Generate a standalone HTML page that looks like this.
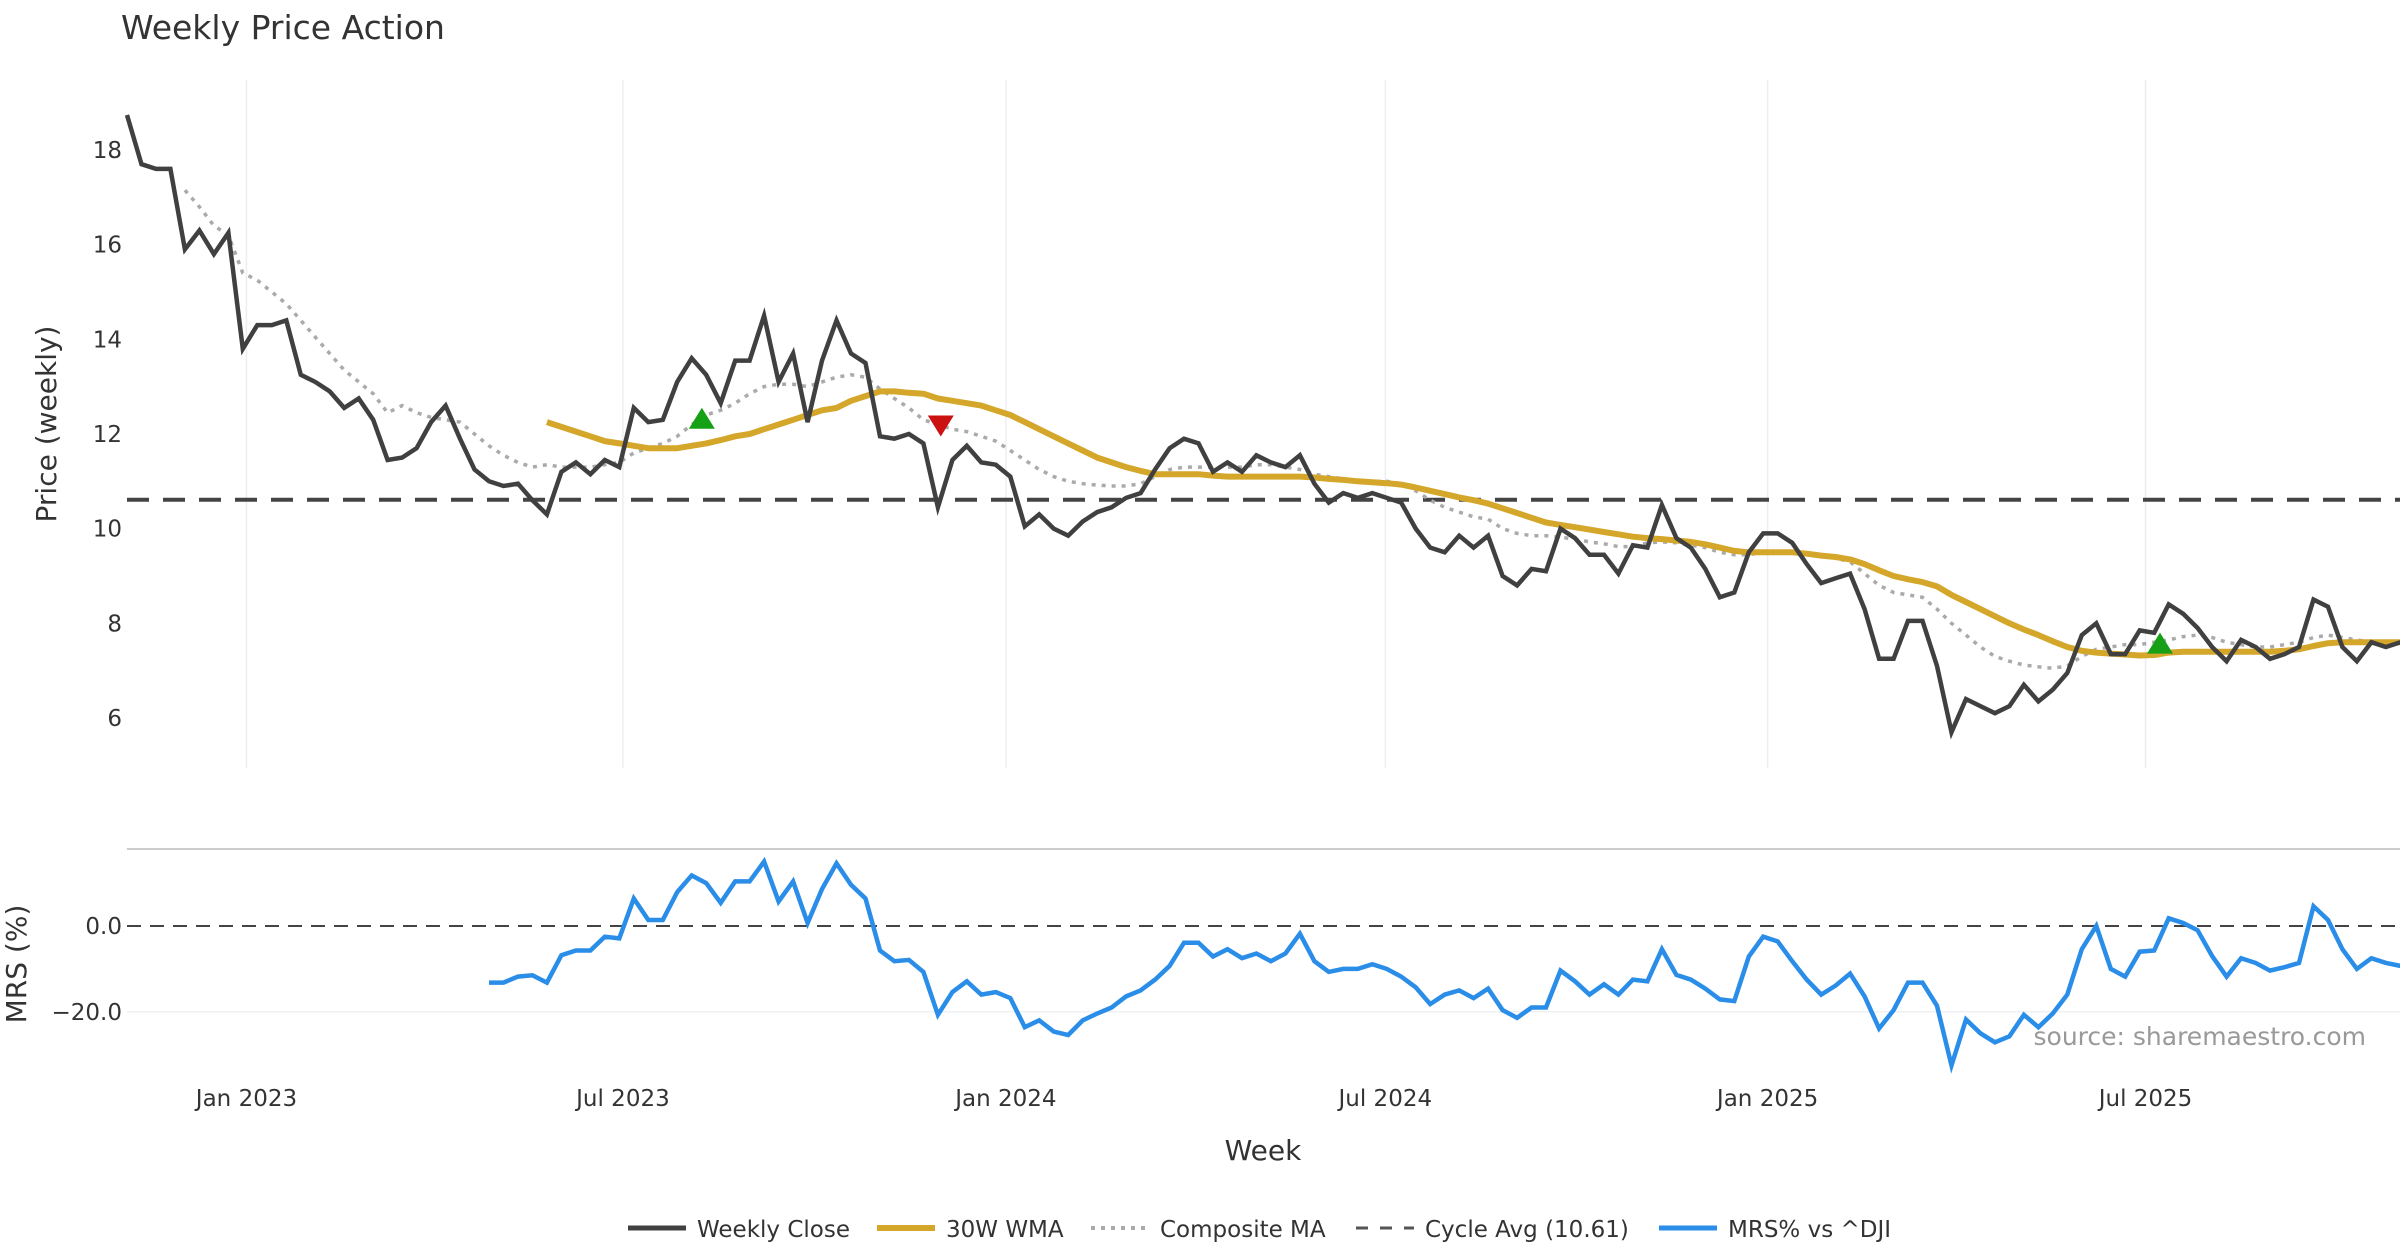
<!DOCTYPE html>
<html><head><meta charset="utf-8">
<style>
html,body{margin:0;padding:0;background:#fff;}
svg{display:block;font-family:"DejaVu Sans","Liberation Sans",sans-serif;}
</style></head>
<body>
<svg id="chart" width="2400" height="1260" viewBox="0 0 2400 1260">
<text x="121" y="39" font-size="33" fill="#333">Weekly Price Action</text>
<g id="grid"></g>
<g id="series"></g>
<g id="axes"></g>
<text x="2366" y="1045" font-size="25" fill="#999" text-anchor="end">source: sharemaestro.com</text>
<text x="1263" y="1160" font-size="28" fill="#333" text-anchor="middle">Week</text>
<text transform="translate(56,424) rotate(-90)" font-size="28" fill="#333" text-anchor="middle">Price (weekly)</text>
<text transform="translate(26,964) rotate(-90)" font-size="28" fill="#333" text-anchor="middle">MRS (%)</text>
<g id="legend"></g>
</svg>
<script>
const closeVals=[18.74,17.7,17.6,17.6,15.9,16.3,15.8,16.25,13.8,14.3,14.3,14.4,13.25,13.1,12.9,12.55,12.75,12.3,11.45,11.5,11.7,12.25,12.6,11.9,11.25,11.0,10.9,10.95,10.6,10.3,11.2,11.4,11.15,11.45,11.3,12.55,12.25,12.3,13.1,13.6,13.25,12.65,13.55,13.55,14.5,13.1,13.7,12.25,13.55,14.4,13.7,13.5,11.95,11.9,12.0,11.8,10.45,11.45,11.75,11.4,11.35,11.1,10.05,10.3,10.0,9.85,10.15,10.35,10.45,10.65,10.75,11.25,11.7,11.9,11.8,11.2,11.4,11.2,11.55,11.4,11.3,11.55,10.95,10.55,10.75,10.65,10.75,10.65,10.55,10.0,9.6,9.5,9.85,9.6,9.85,9.0,8.8,9.15,9.1,10.0,9.8,9.45,9.45,9.05,9.65,9.6,10.5,9.8,9.6,9.15,8.55,8.65,9.5,9.9,9.9,9.7,9.25,8.85,8.95,9.05,8.3,7.25,7.25,8.05,8.05,7.1,5.7,6.4,6.25,6.1,6.25,6.7,6.35,6.6,6.95,7.75,8.0,7.35,7.35,7.85,7.8,8.4,8.2,7.9,7.5,7.2,7.65,7.5,7.25,7.35,7.5,8.5,8.35,7.5,7.2,7.6,7.5,7.6];
const wmaStart=29;
const wmaVals=[12.25,12.15,12.05,11.95,11.85,11.8,11.75,11.7,11.7,11.7,11.75,11.8,11.87,11.95,12.0,12.1,12.2,12.3,12.4,12.5,12.55,12.7,12.8,12.9,12.9,12.87,12.85,12.75,12.7,12.65,12.6,12.5,12.4,12.25,12.1,11.95,11.8,11.65,11.5,11.4,11.3,11.22,11.15,11.15,11.15,11.15,11.12,11.1,11.1,11.1,11.1,11.1,11.1,11.08,11.05,11.03,11.0,10.98,10.96,10.93,10.87,10.8,10.73,10.66,10.6,10.53,10.43,10.33,10.23,10.13,10.08,10.03,9.98,9.93,9.88,9.83,9.8,9.78,9.75,9.72,9.67,9.6,9.53,9.5,9.5,9.5,9.5,9.47,9.43,9.4,9.35,9.25,9.12,9.0,8.93,8.87,8.78,8.6,8.45,8.3,8.15,8.0,7.87,7.75,7.62,7.5,7.42,7.38,7.36,7.34,7.32,7.33,7.38,7.4,7.4,7.4,7.4,7.4,7.4,7.4,7.42,7.45,7.52,7.58,7.6,7.6,7.6,7.6,7.6];
const compStart=4;
const compVals=[17.15,16.8,16.4,16.2,15.4,15.25,15.0,14.75,14.4,14.05,13.7,13.35,13.1,12.85,12.45,12.6,12.45,12.35,12.3,12.25,12.0,11.75,11.55,11.4,11.3,11.35,11.3,11.3,11.3,11.35,11.4,11.6,11.7,11.8,11.95,12.2,12.4,12.5,12.65,12.85,13.0,13.05,13.05,13.0,13.1,13.2,13.25,13.2,12.95,12.75,12.55,12.3,12.2,12.1,12.05,11.95,11.85,11.65,11.45,11.25,11.1,11.0,10.95,10.92,10.9,10.9,10.95,11.1,11.25,11.3,11.3,11.3,11.3,11.3,11.35,11.35,11.3,11.25,11.15,11.1,11.05,11.02,11.0,11.0,10.95,10.8,10.6,10.45,10.35,10.25,10.2,10.0,9.9,9.85,9.85,9.82,9.78,9.72,9.68,9.62,9.62,9.7,9.72,9.7,9.65,9.6,9.5,9.45,9.45,9.5,9.52,9.5,9.45,9.42,9.38,9.3,9.05,8.8,8.65,8.6,8.55,8.3,8.0,7.75,7.5,7.3,7.2,7.12,7.08,7.05,7.1,7.3,7.45,7.5,7.55,7.55,7.6,7.65,7.72,7.75,7.7,7.6,7.55,7.5,7.5,7.55,7.6,7.7,7.75,7.7,7.65,7.6,7.6,7.6];
const mrsStart=25;
const mrsVals=[-13.2,-13.2,-11.8,-11.5,-13.2,-6.8,-5.7,-5.7,-2.5,-2.9,6.4,1.4,1.4,7.9,11.8,10,5.4,10.4,10.4,15,5.7,10.4,0.7,8.6,14.6,9.6,6.4,-5.7,-8.2,-7.9,-10.7,-20.7,-15.4,-12.9,-16,-15.4,-16.8,-23.6,-22,-24.6,-25.4,-22,-20.4,-19,-16.4,-15,-12.5,-9.3,-3.9,-3.9,-7.1,-5.4,-7.5,-6.4,-8.2,-6.4,-1.8,-8.2,-10.7,-10,-10,-8.9,-10,-11.8,-14.3,-18.2,-16,-15,-16.8,-14.6,-19.6,-21.4,-19,-19,-10.4,-12.9,-16,-13.6,-16,-12.5,-12.9,-5.4,-11.4,-12.5,-14.6,-17.1,-17.5,-7.1,-2.5,-3.6,-8.2,-12.5,-16,-13.9,-11.1,-16.4,-23.9,-19.6,-13.2,-13.2,-18.6,-32.5,-21.8,-25,-27.1,-25.7,-20.7,-23.6,-20.4,-16,-5.4,0,-10,-11.8,-6,-5.7,1.8,0.7,-1,-7,-11.8,-7.5,-8.6,-10.4,-9.6,-8.6,4.6,1.4,-5.4,-10,-7.5,-8.6,-9.3];
const priceTicks=[6,8,10,12,14,16,18];
const mrsTicks=[0,-20];
const mrsTickLabels=["0.0","\u221220.0"];
const monthLabels=["Jan 2023","Jul 2023","Jan 2024","Jul 2024","Jan 2025","Jul 2025"];
const monthWeeks=[8.25,34.25,60.7,86.9,113.3,139.4];
const cycleAvg=10.61;
const buySignals=[[39.7,12.3],[140.4,7.55]];
const sellSignals=[[56.2,12.2]];

const NS="http://www.w3.org/2000/svg";
const X0=127,DX=14.48;
function xs(i){return X0+i*DX;}
function yp(v){return 150+(18-v)*47.33;}
function ym(v){return 926-v*4.29;}
function mk(tag,attrs,parent){const e=document.createElementNS(NS,tag);for(const k in attrs)e.setAttribute(k,attrs[k]);parent.appendChild(e);return e;}
const grid=document.getElementById('grid'),ser=document.getElementById('series'),ax=document.getElementById('axes'),leg=document.getElementById('legend');

monthWeeks.forEach((w,k)=>{
  const g=mk('line',{x1:xs(w),x2:xs(w),y1:80,y2:768,stroke:'#eceef2','stroke-width':1.5},grid);
  
  
  const t=mk('text',{x:xs(w),y:1106,'font-size':23,fill:'#333','text-anchor':'middle'},ax);
  t.textContent=monthLabels[k];
  
  
});
priceTicks.forEach(v=>{
  const t=mk('text',{x:122,y:yp(v)+8,'font-size':23,fill:'#333','text-anchor':'end'},ax);
  t.textContent=v;
  
  
});
mrsTicks.forEach((v,k)=>{
  const t=mk('text',{x:122,y:ym(v)+8,'font-size':23,fill:'#333','text-anchor':'end'},ax);
  t.textContent=mrsTickLabels[k];
  
  
});
let sep=mk('line',{x1:127,x2:2400,y1:849,y2:849,stroke:'#ccc','stroke-width':2},grid);


let g20=mk('line',{x1:127,x2:2400,y1:ym(-20),y2:ym(-20),stroke:'#eef0f4','stroke-width':1.5},grid);


let z=mk('line',{x1:127,x2:2400,y1:ym(0),y2:ym(0),stroke:'#444','stroke-width':2,'stroke-dasharray':'14,9'},ser);


let ca=mk('line',{x1:127,x2:2400,y1:yp(cycleAvg),y2:yp(cycleAvg),stroke:'#444','stroke-width':4,'stroke-dasharray':'22,14'},ser);



function pts(arr,start,yf){return arr.map((v,i)=>xs(start+i).toFixed(1)+','+yf(v).toFixed(1)).join(' ');}
let c=mk('polyline',{points:pts(compVals,compStart,yp),fill:'none',stroke:'#aaa','stroke-width':3.5,'stroke-dasharray':'4,6'},ser);


let w=mk('polyline',{points:pts(wmaVals,wmaStart,yp),fill:'none',stroke:'#d4a62a','stroke-width':6,'stroke-linejoin':'round'},ser);


let cl=mk('polyline',{points:pts(closeVals,0,yp),fill:'none',stroke:'#404040','stroke-width':4.5,'stroke-linejoin':'miter'},ser);


let m=mk('polyline',{points:pts(mrsVals,mrsStart,ym),fill:'none',stroke:'#2a8de8','stroke-width':4.5},ser);


buySignals.forEach(s=>{const x=xs(s[0]),y=yp(s[1]);
  const p=mk('polygon',{points:`${x-13},${y+9} ${x+13},${y+9} ${x},${y-12}`,fill:'#16a016'},ser);
  
  });
sellSignals.forEach(s=>{const x=xs(s[0]),y=yp(s[1]);
  const p=mk('polygon',{points:`${x-13},${y-9} ${x+13},${y-9} ${x},${y+12}`,fill:'#cc1111'},ser);
  
  });

const legItems=[["Weekly Close","#404040",5,null,628],["30W WMA","#d4a62a",6,null,877],["Composite MA","#aaa",4,"4,6",1091],["Cycle Avg (10.61)","#555",3,"12,12",1356],["MRS% vs ^DJI","#2a8de8",5,null,1659]];
legItems.forEach(it=>{
  const l=mk('line',{x1:it[4],x2:it[4]+58,y1:1228,y2:1228,stroke:it[1],'stroke-width':it[2]},leg);
  if(it[3])l.setAttribute('stroke-dasharray',it[3]);
  
  
  const t=mk('text',{x:it[4]+69,y:1237,'font-size':23,fill:'#333'},leg);
  t.textContent=it[0];
  
  
});
</script>
</body></html>
